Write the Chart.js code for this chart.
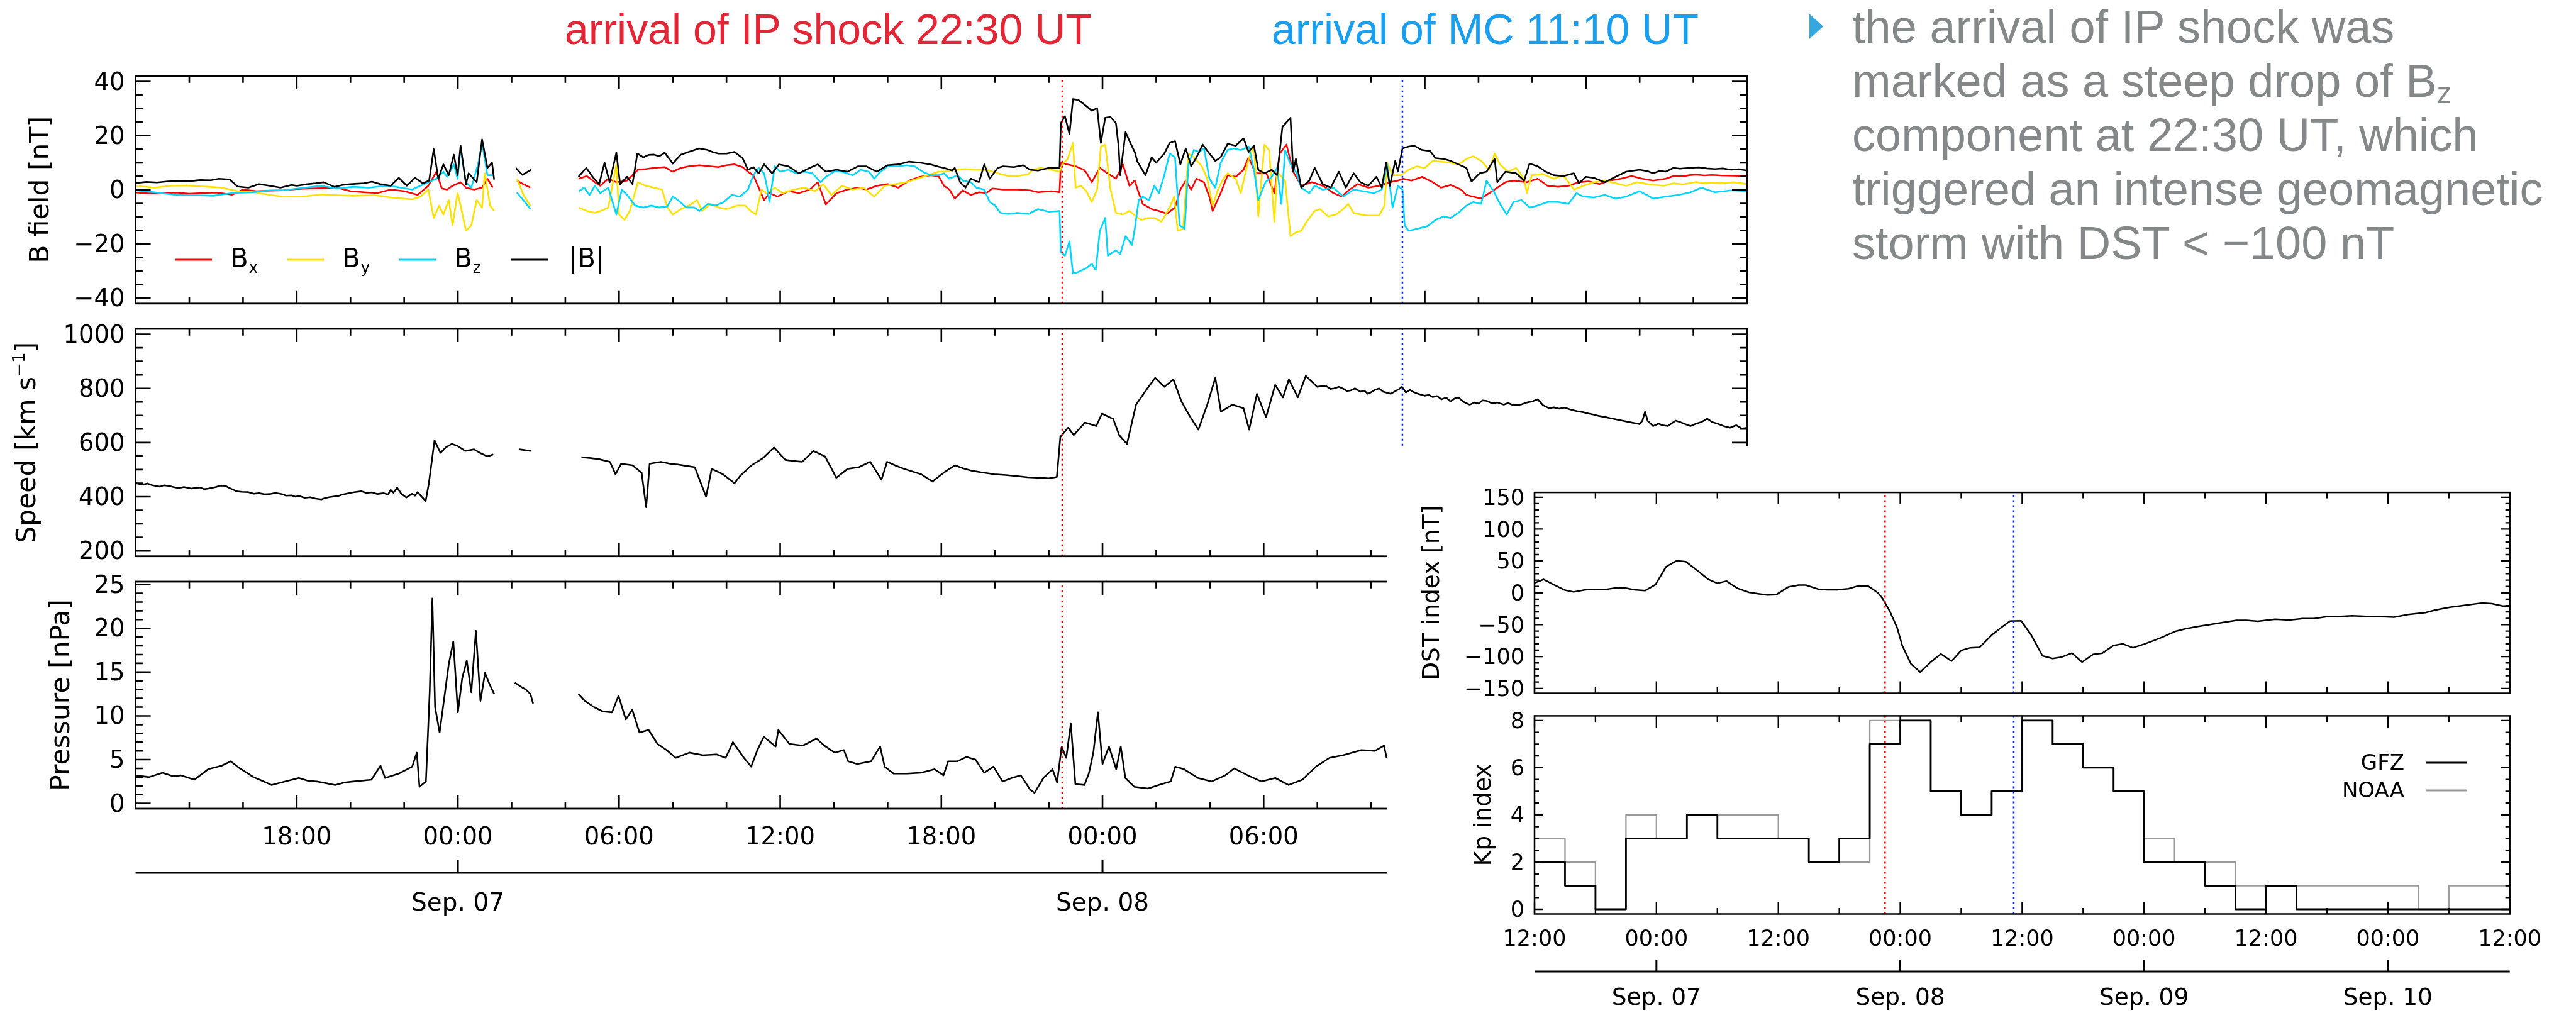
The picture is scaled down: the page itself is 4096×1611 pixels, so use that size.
<!DOCTYPE html>
<html>
<head>
<meta charset="utf-8">
<title>IP shock and magnetic cloud arrival, 7–8 September</title>
<script src="https://cdn.jsdelivr.net/npm/chart.js@4.4.1/dist/chart.umd.min.js"></script>
<style>
  html, body { margin: 0; padding: 0; background: #fff; }
  #stage { position: relative; width: 4096px; height: 1611px; overflow: hidden; background: #fff;
           font-family: "Liberation Sans", Arial, Helvetica, sans-serif; }
  #stage canvas { position: absolute; left: 0; top: 0; }
  .headline { position: absolute; white-space: nowrap; font-size: 68px; line-height: 68px; top: 12px; }
  #inset { position: absolute; left: 2206px; top: 709px; width: 1890px; height: 902px; background: #fff; }
  #note { position: absolute; left: 2945px; top: 0px; font-size: 74px; line-height: 86px;
          color: #858889; white-space: nowrap; }
  #note .sub { font-size: 0.62em; position: relative; top: 0.22em; line-height: 0; }
  #marker { position: absolute; left: 2877px; top: 22px; width: 0; height: 0;
            border-left: 22px solid #35a8e0; border-top: 20px solid transparent; border-bottom: 20px solid transparent; }
</style>
</head>
<body>
<div id="stage">
  <canvas id="cB" width="4096" height="1611"></canvas>
  <canvas id="cV" width="4096" height="1611"></canvas>
  <canvas id="cP" width="4096" height="1611"></canvas>
  <div id="inset"></div>
  <canvas id="cD" width="4096" height="1611"></canvas>
  <canvas id="cK" width="4096" height="1611"></canvas>

  <div class="headline" style="left:898px;color:#e32636;">arrival of IP shock 22:30 UT</div>
  <div class="headline" style="left:2022px;color:#1a9ff0;">arrival of MC 11:10 UT</div>

  <div id="marker"></div>
  <div id="note">the arrival of IP shock was<br>marked as a steep drop of B<span class="sub">z</span><br>component at 22:30 UT, which<br>triggered an intense geomagnetic<br>storm with DST &lt; &minus;100 nT</div>
</div>

<script>
// ---------------------------------------------------------------
// Time is given in hours since 2017-09-06 00:00 UT.
// ---------------------------------------------------------------

// event times
const shockTime = 22.5 + 24;         // Sep 07 22:30 UT
const cloudTime = 11 + 10 / 60 + 48; // Sep 08 11:10 UT

// interplanetary magnetic field [nT]  ([time, value], null = data gap)
const bxData = [[12.0,-1.0],[12.5,-1.3],[13.0,-1.3],[13.5,-1.0],[14.0,-1.4],[14.5,-1.2],[15.0,-1.0],[15.6,-1.8],[16.0,0.1],[16.5,-0.5],[17.0,-0.3],[17.5,-0.2],[18.0,0.3],[18.5,0.5],[19.0,0.6],[19.5,0.8],[20.0,-0.5],[20.5,-0.9],[21.0,-1.2],[21.5,0.1],[22.0,-0.5],[22.5,-1.9],[22.9,1.5],[23.2,6.7],[23.4,0.5],[23.6,0.1],[23.8,1.5],[24.1,2.8],[24.3,0.8],[24.6,0.1],[24.9,0.8],[25.1,4.1],[25.3,0.8],[25.4,null],[26.2,3.4],[26.45,2.0],[26.7,0.8],[26.8,null],[28.5,4.1],[28.8,5.1],[29.1,2.8],[29.3,1.5],[29.6,4.1],[29.9,2.8],[30.3,3.4],[30.7,7.4],[31.0,7.7],[31.3,8.1],[31.7,8.4],[32.0,6.7],[32.3,8.1],[32.6,8.7],[33.0,9.1],[33.4,8.7],[33.7,8.4],[34.0,9.1],[34.3,9.4],[34.6,8.4],[34.8,6.7],[35.0,5.4],[35.2,0.8],[35.4,-3.8],[35.6,-1.2],[35.9,-2.5],[36.3,-0.5],[36.7,-1.2],[37.1,0.1],[37.4,2.8],[37.7,-5.4],[38.1,-1.2],[38.5,0.1],[38.9,0.8],[39.2,0.1],[39.6,1.5],[40.0,2.1],[40.4,0.8],[40.8,3.4],[41.2,4.8],[41.6,5.4],[41.9,5.0],[42.1,1.5],[42.3,0.1],[42.5,-3.2],[42.8,-0.2],[43.1,-1.9],[43.4,-0.9],[43.68,-1.2],[43.9,0.5],[44.3,0.1],[44.85,0.1],[45.3,-0.2],[45.6,-0.9],[46.1,-0.5],[46.4,-0.9],[46.45,10.0],[46.7,9.4],[47.0,8.7],[47.3,7.4],[47.4,6.4],[47.6,2.8],[47.9,8.1],[48.1,6.7],[48.5,4.1],[48.76,9.4],[49.0,1.5],[49.2,3.4],[49.35,-1.2],[49.5,-5.2],[49.83,-7.1],[50.1,-7.8],[50.4,-8.8],[50.7,-6.5],[50.9,0.1],[51.1,3.4],[51.3,0.1],[51.5,4.1],[51.78,2.8],[52.0,-3.2],[52.1,-7.8],[52.4,-1.2],[52.66,5.4],[52.96,4.8],[53.25,7.4],[53.44,12.0],[53.7,6.1],[54.1,6.1],[54.4,-1.2],[54.6,13.4],[54.85,16.7],[55.1,6.7],[55.4,1.5],[55.8,2.8],[56.2,1.5],[56.6,-1.2],[56.9,-2.5],[57.2,0.1],[57.5,2.1],[57.9,0.8],[58.3,1.5],[58.7,2.8],[59.0,3.4],[59.2,4.1],[59.5,3.4],[59.9,4.8],[60.3,2.8],[60.6,0.8],[60.96,1.8],[61.35,0.1],[61.55,-1.9],[61.8,-2.5],[62.1,-3.2],[62.4,-1.2],[62.7,0.8],[63.0,2.8],[63.3,3.4],[63.8,2.8],[64.2,4.1],[64.57,1.5],[64.96,1.1],[65.35,1.5],[65.74,2.8],[66.1,3.1],[66.5,2.1],[66.9,3.4],[67.3,4.1],[67.7,5.1],[68.1,4.1],[68.5,3.4],[68.97,4.1],[69.26,5.1],[69.6,5.0],[69.85,5.4],[70.1,5.6],[70.4,5.3],[70.7,5.5],[71.0,5.3],[71.5,5.2],[72.0,5.1]];

const byData = [[12.0,1.5],[12.7,0.8],[13.3,1.5],[13.9,1.6],[14.7,1.1],[15.2,0.8],[15.8,-0.5],[16.4,-0.9],[17.0,-1.9],[17.5,-2.5],[18.3,-2.4],[18.9,-1.7],[19.5,-2.0],[20.1,-2.2],[20.9,-2.0],[21.5,-2.8],[22.3,-3.5],[22.6,-2.5],[22.9,0.1],[23.1,-10.4],[23.3,-5.8],[23.46,-9.1],[23.66,-3.8],[23.8,-13.1],[23.99,-1.2],[24.1,-5.8],[24.3,-15.1],[24.5,-13.1],[24.7,-3.8],[24.9,-6.5],[25.0,6.1],[25.2,-5.8],[25.35,-7.8],[25.4,null],[26.2,4.0],[26.45,-2.0],[26.7,-6.0],[26.8,null],[28.5,-6.5],[28.8,-7.8],[29.1,-8.5],[29.4,-7.5],[29.6,-6.5],[29.9,9.4],[30.0,-9.1],[30.2,-11.1],[30.4,-7.8],[30.7,2.8],[31.0,1.5],[31.3,0.8],[31.6,0.1],[31.8,-6.5],[32.0,-9.1],[32.3,-7.1],[32.6,-5.8],[32.9,-3.8],[33.1,-7.8],[33.4,-5.2],[33.7,-6.5],[34.0,-7.1],[34.4,-5.8],[34.7,-5.8],[34.9,-7.8],[35.1,-9.1],[35.3,0.1],[35.5,-1.2],[35.8,0.8],[36.1,-1.2],[36.5,0.1],[36.9,0.8],[37.3,-0.5],[37.6,2.1],[37.9,-1.9],[38.3,1.5],[38.7,0.1],[39.1,0.8],[39.5,-2.5],[39.9,1.5],[40.3,2.1],[40.7,2.8],[41.1,4.1],[41.5,5.4],[41.9,6.7],[42.1,6.7],[42.5,7.4],[42.9,7.7],[43.3,7.4],[43.68,7.4],[44.1,6.1],[44.5,5.1],[44.85,5.1],[45.24,5.8],[45.4,7.4],[45.7,8.1],[46.1,7.4],[46.4,6.7],[46.5,9.4],[46.7,11.4],[46.9,17.3],[47.0,0.8],[47.2,1.5],[47.4,-0.5],[47.6,-4.5],[47.8,0.1],[47.94,16.0],[48.1,16.7],[48.3,0.1],[48.5,-8.5],[48.76,-9.1],[49.0,-7.8],[49.25,-9.8],[49.44,-11.1],[49.7,-10.4],[49.93,-10.4],[50.2,-11.8],[50.5,-6.5],[50.67,-2.5],[50.8,-15.1],[51.0,-14.4],[51.2,13.4],[51.4,12.0],[51.7,8.7],[51.9,4.1],[52.1,-5.8],[52.3,0.1],[52.5,4.1],[52.66,6.1],[52.96,4.1],[53.15,-1.2],[53.44,11.4],[53.64,16.0],[53.8,-9.8],[54.03,16.7],[54.2,14.7],[54.4,-11.8],[54.5,6.7],[54.8,3.4],[55.0,-17.1],[55.2,-15.7],[55.4,-15.1],[55.6,-11.8],[55.9,-7.8],[56.1,-7.1],[56.4,-9.8],[56.7,-9.1],[56.96,-7.1],[57.15,-5.2],[57.35,-8.5],[57.6,-9.1],[57.9,-9.5],[58.3,-9.5],[58.5,-5.8],[58.6,10.0],[58.8,5.4],[59.1,5.4],[59.4,7.4],[59.7,8.7],[60.0,8.1],[60.3,10.7],[60.6,10.4],[60.96,10.0],[61.25,9.4],[61.55,11.4],[61.8,12.4],[62.1,10.7],[62.4,7.4],[62.6,13.4],[62.8,9.4],[63.1,6.7],[63.4,8.1],[63.7,4.1],[63.8,-1.2],[63.98,5.4],[64.4,5.8],[64.8,4.1],[65.16,5.4],[65.55,0.1],[65.9,1.5],[66.3,2.8],[66.7,3.4],[67.1,2.4],[67.5,1.5],[67.9,2.8],[68.3,2.1],[68.9,1.5],[69.26,2.4],[69.6,2.0],[69.85,2.4],[70.1,2.9],[70.4,2.4],[70.7,2.6],[71.0,2.4],[71.5,2.8],[72.0,2.1]];

const bzData = [[12.0,-0.2],[12.7,-0.9],[13.5,-1.9],[14.3,-2.0],[14.9,-2.2],[15.6,-1.2],[16.4,-0.9],[17.0,-0.2],[17.5,-0.2],[18.3,0.8],[18.9,1.5],[19.5,0.5],[20.1,1.1],[20.7,0.8],[21.3,1.5],[21.7,1.1],[22.3,0.1],[22.6,1.5],[22.9,2.8],[23.2,4.1],[23.46,6.7],[23.6,4.8],[23.85,9.4],[23.99,4.1],[24.1,15.3],[24.3,2.8],[24.5,0.8],[24.75,9.4],[24.9,17.3],[25.1,5.4],[25.3,5.4],[25.4,null],[26.2,-1.0],[26.45,-4.0],[26.7,-7.0],[26.8,null],[28.5,-0.5],[28.7,0.8],[28.9,-1.9],[29.1,1.5],[29.3,-1.2],[29.6,0.8],[29.9,-9.1],[30.1,0.1],[30.3,-1.9],[30.6,-5.8],[30.9,-6.5],[31.2,-5.8],[31.5,-6.5],[31.8,-6.1],[32.0,-2.5],[32.2,-3.8],[32.5,-6.5],[32.8,-6.5],[33.0,-7.8],[33.3,-5.2],[33.6,-5.8],[33.9,-4.5],[34.2,-1.9],[34.5,-2.5],[34.8,0.1],[35.0,5.4],[35.2,8.1],[35.4,6.1],[35.5,1.5],[35.6,-4.5],[35.8,8.7],[36.0,6.7],[36.3,7.4],[36.6,6.1],[36.9,6.7],[37.2,6.1],[37.5,2.8],[37.7,4.8],[38.0,6.7],[38.3,6.7],[38.7,5.4],[39.0,7.4],[39.3,6.7],[39.5,4.1],[39.7,6.4],[40.0,8.7],[40.4,8.7],[40.7,9.1],[41.0,8.7],[41.3,6.7],[41.6,5.4],[41.9,5.4],[42.1,6.1],[42.3,4.1],[42.6,5.4],[42.8,3.4],[43.1,2.8],[43.3,0.8],[43.6,0.1],[43.8,-4.5],[44.0,-5.8],[44.2,-8.5],[44.5,-8.9],[44.85,-8.5],[45.24,-8.9],[45.6,-7.1],[46.0,-8.1],[46.4,-7.8],[46.45,-23.0],[46.6,-24.3],[46.77,-19.0],[46.9,-30.9],[47.1,-30.3],[47.4,-28.9],[47.6,-27.3],[47.75,-29.6],[47.9,-15.1],[48.1,-10.4],[48.2,-24.3],[48.5,-22.3],[48.66,-23.7],[48.86,-17.1],[49.1,-20.4],[49.2,-14.4],[49.35,-3.8],[49.5,-2.5],[49.73,-3.8],[49.93,1.5],[50.1,-1.2],[50.3,5.4],[50.5,13.4],[50.7,12.0],[50.87,-13.1],[51.06,-14.4],[51.2,9.4],[51.4,14.7],[51.6,14.0],[51.78,15.3],[51.98,4.1],[52.2,0.8],[52.4,10.0],[52.66,14.7],[52.86,15.3],[53.15,14.7],[53.44,16.0],[53.64,7.4],[53.8,-3.8],[54.07,2.8],[54.3,4.8],[54.5,8.1],[54.66,-5.2],[54.8,14.7],[55.0,9.4],[55.2,6.7],[55.4,0.8],[55.7,-1.2],[55.9,1.5],[56.2,0.1],[56.6,0.8],[56.96,-2.5],[57.35,0.1],[57.7,-0.5],[58.1,-1.2],[58.4,0.1],[58.6,9.4],[58.8,-6.5],[59.0,1.5],[59.17,0.1],[59.25,-13.1],[59.4,-15.1],[59.7,-14.4],[60.1,-13.4],[60.4,-11.1],[60.7,-9.8],[60.96,-10.4],[61.25,-8.5],[61.55,-5.8],[61.8,-4.5],[62.1,-5.2],[62.3,3.4],[62.6,-1.2],[62.8,-5.2],[63.05,-9.1],[63.3,-4.5],[63.6,-3.8],[63.9,-6.5],[64.2,-5.8],[64.57,-4.5],[64.96,-4.5],[65.35,-5.2],[65.65,-1.2],[65.9,-2.5],[66.3,-2.8],[66.7,-1.9],[67.1,-3.2],[67.5,-2.5],[68.0,-0.5],[68.5,-3.2],[68.97,-2.5],[69.45,-1.9],[69.9,-0.9],[70.3,0.8],[70.8,-0.9],[71.4,-0.2],[72.0,-0.5]];

const bTotalData = [[12.0,2.5],[12.4,2.9],[12.8,2.7],[13.2,3.1],[13.6,3.3],[14.0,3.2],[14.4,3.6],[14.8,3.5],[15.1,4.1],[15.5,3.8],[15.8,1.2],[16.2,0.8],[16.6,2.1],[17.0,1.5],[17.4,0.8],[17.8,1.8],[18.0,1.5],[18.4,2.1],[18.7,2.4],[19.0,2.8],[19.4,1.1],[19.7,1.8],[20.0,2.1],[20.5,2.4],[20.8,3.0],[21.1,2.1],[21.5,1.5],[21.8,4.4],[22.1,1.5],[22.4,4.4],[22.7,2.4],[22.93,3.4],[23.1,15.0],[23.27,4.1],[23.46,9.4],[23.66,5.4],[23.85,13.0],[23.99,5.4],[24.1,16.3],[24.3,2.1],[24.4,6.1],[24.7,2.8],[24.9,18.6],[25.1,8.1],[25.27,10.0],[25.35,3.8],[25.4,null],[26.16,8.0],[26.4,5.5],[26.74,7.5],[26.8,null],[28.49,4.8],[28.78,8.1],[29.07,4.1],[29.26,2.1],[29.46,10.0],[29.65,2.8],[29.9,13.7],[30.04,2.1],[30.3,4.8],[30.5,2.1],[30.68,13.4],[30.9,12.0],[31.1,12.9],[31.3,13.0],[31.5,12.4],[31.7,13.7],[32.0,9.7],[32.3,13.0],[32.6,14.0],[32.98,15.3],[33.3,14.7],[33.5,13.9],[33.7,13.4],[34.0,13.4],[34.3,14.0],[34.6,11.7],[34.8,7.4],[35.0,8.4],[35.2,6.1],[35.4,9.4],[35.7,6.1],[35.95,9.4],[36.3,8.7],[36.7,6.1],[37.1,8.1],[37.4,9.4],[37.7,6.7],[38.1,7.4],[38.5,6.7],[38.9,8.7],[39.2,8.7],[39.6,6.7],[40.0,9.1],[40.4,9.4],[40.8,10.4],[41.2,10.0],[41.6,9.4],[41.9,8.5],[42.1,8.1],[42.4,7.1],[42.5,8.1],[42.7,2.8],[42.9,0.8],[43.1,4.1],[43.4,2.8],[43.6,9.4],[43.8,4.1],[44.1,8.1],[44.3,8.7],[44.7,8.4],[45.05,9.1],[45.3,7.4],[45.6,7.1],[46.0,8.1],[46.4,8.1],[46.45,24.6],[46.6,27.2],[46.77,20.6],[46.9,33.5],[47.1,33.2],[47.4,30.9],[47.6,29.2],[47.8,30.2],[47.94,17.3],[48.1,26.6],[48.3,26.9],[48.5,24.6],[48.6,16.0],[48.66,5.4],[48.86,21.3],[49.05,17.0],[49.2,14.0],[49.3,10.4],[49.44,8.1],[49.6,5.4],[49.83,12.0],[50.0,10.0],[50.3,13.4],[50.5,17.3],[50.7,18.0],[50.9,9.4],[51.1,15.3],[51.3,8.7],[51.5,12.0],[51.73,16.7],[51.98,13.4],[52.2,10.7],[52.4,12.0],[52.66,17.0],[52.96,16.3],[53.25,19.0],[53.44,14.0],[53.64,16.3],[53.8,7.4],[54.03,6.1],[54.3,7.4],[54.5,5.4],[54.7,23.3],[55.0,26.6],[55.1,6.7],[55.2,11.4],[55.4,0.8],[55.7,3.4],[55.9,8.1],[56.2,2.1],[56.5,0.8],[56.8,6.7],[57.06,0.8],[57.35,6.1],[57.6,2.8],[57.9,1.5],[58.2,4.8],[58.4,0.8],[58.56,10.0],[58.7,1.5],[58.9,10.7],[59.0,6.7],[59.17,15.3],[59.4,16.0],[59.6,16.3],[59.9,14.7],[60.2,14.3],[60.4,11.7],[60.7,11.4],[60.96,10.7],[61.25,9.4],[61.55,8.1],[61.74,3.1],[62.04,6.1],[62.3,6.7],[62.6,11.4],[62.7,2.8],[63.0,6.7],[63.4,6.1],[63.7,3.4],[63.9,9.7],[64.2,8.7],[64.5,6.7],[64.8,5.4],[65.16,5.1],[65.55,6.1],[65.74,2.4],[66.0,4.8],[66.3,4.4],[66.7,2.8],[67.1,4.8],[67.5,6.7],[68.0,7.4],[68.3,6.9],[68.5,6.1],[68.75,7.0],[68.97,6.7],[69.26,8.1],[69.5,7.8],[69.85,8.1],[70.2,8.3],[70.5,7.9],[70.8,7.7],[71.1,7.9],[71.4,7.4],[71.7,7.6],[72.0,7.1]];

// solar wind speed [km/s]
const speedData = [[11.97,450],[12.15,447],[12.3,446],[12.45,449],[12.6,443],[12.75,440],[12.9,437],[13.05,442],[13.24,440],[13.4,436],[13.6,432],[13.8,436],[14.08,430],[14.25,433],[14.4,434],[14.55,428],[14.71,430],[14.85,433],[15.0,436],[15.15,441],[15.34,440],[15.5,432],[15.76,420],[15.95,418],[16.2,417],[16.4,411],[16.6,413],[16.8,409],[17.0,410],[17.2,414],[17.45,410],[17.6,404],[17.8,405],[17.95,400],[18.08,403],[18.3,396],[18.5,398],[18.7,393],[18.92,390],[19.05,395],[19.2,398],[19.4,401],[19.55,403],[19.7,408],[19.9,412],[20.1,416],[20.4,420],[20.6,414],[20.8,416],[21.0,410],[21.24,413],[21.4,408],[21.5,425],[21.6,415],[21.74,433],[21.9,410],[22.08,397],[22.2,405],[22.3,411],[22.4,404],[22.5,417],[22.65,400],[22.8,384],[22.92,450],[23.13,608],[23.35,562],[23.55,582],[23.77,595],[23.98,588],[24.27,569],[24.6,575],[24.82,562],[25.1,549],[25.32,556],[25.4,null],[26.29,575],[26.5,572],[26.71,569],[26.8,null],[28.6,546],[28.9,543],[29.24,539],[29.66,529],[29.87,483],[30.08,522],[30.5,516],[30.84,489],[31.01,361],[31.14,522],[31.56,529],[31.9,522],[32.19,519],[32.5,514],[32.82,509],[33.24,400],[33.45,503],[33.87,483],[34.3,450],[34.5,476],[34.93,516],[35.35,542],[35.77,582],[36.19,536],[36.5,532],[36.82,529],[37.24,569],[37.67,549],[38.09,470],[38.51,503],[38.93,509],[39.35,529],[39.77,463],[39.98,529],[40.3,515],[40.61,503],[41.25,483],[41.67,456],[42.09,489],[42.51,516],[42.8,505],[43.14,496],[43.5,490],[43.98,483],[44.4,480],[44.83,476],[45.2,472],[45.67,470],[46.0,468],[46.3,473],[46.43,621],[46.72,655],[46.93,628],[47.35,674],[47.77,661],[47.98,707],[48.4,687],[48.62,628],[48.91,595],[49.25,740],[49.67,800],[49.96,839],[50.3,806],[50.64,833],[50.93,754],[51.23,701],[51.57,648],[51.9,740],[52.2,839],[52.41,714],[52.83,740],[53.25,727],[53.46,648],[53.75,780],[54.09,694],[54.43,813],[54.72,767],[54.94,833],[55.27,767],[55.57,846],[55.99,806],[56.3,810],[56.5,798],[56.62,800],[56.8,806],[57.0,797],[57.1,790],[57.25,793],[57.4,800],[57.6,788],[57.75,792],[57.88,780],[58.0,786],[58.15,795],[58.3,800],[58.45,788],[58.6,784],[58.73,780],[58.9,790],[59.05,798],[59.15,806],[59.3,785],[59.45,795],[59.57,787],[59.75,780],[59.99,773],[60.15,776],[60.3,768],[60.45,772],[60.62,760],[60.8,766],[60.95,752],[61.1,762],[61.25,767],[61.45,750],[61.67,740],[61.85,748],[62.0,744],[62.15,756],[62.3,754],[62.5,745],[62.7,748],[62.94,740],[63.1,746],[63.3,738],[63.57,740],[63.8,748],[64.0,752],[64.2,760],[64.4,738],[64.62,727],[64.8,730],[65.0,725],[65.2,729],[65.46,721],[65.7,715],[65.9,712],[66.1,707],[66.3,703],[66.5,698],[66.73,694],[66.9,690],[67.1,686],[67.36,681],[67.6,676],[67.8,672],[67.99,668],[68.1,680],[68.2,714],[68.3,680],[68.5,661],[68.7,670],[68.85,664],[69.05,661],[69.2,672],[69.34,681],[69.5,676],[69.7,668],[69.89,661],[70.1,670],[70.3,676],[70.52,688],[70.7,676],[70.94,668],[71.1,662],[71.36,655],[71.6,664],[71.8,652],[72.0,655]];

// solar wind dynamic pressure [nPa]
const pressureData = [[11.99,3.2],[12.5,3.0],[13.0,3.5],[13.4,3.1],[13.68,3.2],[14.19,2.7],[14.7,3.9],[15.2,4.3],[15.54,4.8],[15.88,4.0],[16.39,3.0],[16.7,2.6],[17.06,2.1],[17.57,2.5],[18.08,2.9],[18.4,2.6],[18.75,2.5],[19.1,2.3],[19.43,2.1],[19.8,2.4],[20.1,2.5],[20.78,2.7],[21.12,4.3],[21.29,2.9],[21.8,3.4],[22.3,4.2],[22.47,5.8],[22.57,1.9],[22.81,2.5],[22.95,12.7],[23.05,23.4],[23.15,11.0],[23.32,8.1],[23.49,12.0],[23.66,15.9],[23.83,18.5],[24.0,10.4],[24.16,14.3],[24.33,16.3],[24.5,12.7],[24.67,19.7],[24.84,11.7],[25.01,14.9],[25.18,13.6],[25.35,12.5],[25.4,null],[26.12,13.8],[26.36,13.3],[26.53,13.0],[26.7,12.5],[26.8,11.4],[26.9,null],[28.49,12.5],[28.73,11.7],[29.07,11.0],[29.4,10.5],[29.74,10.4],[29.98,12.3],[30.25,9.6],[30.49,10.7],[30.76,8.1],[31.1,8.4],[31.43,6.8],[31.77,6.1],[32.11,5.2],[32.62,5.8],[33.12,5.5],[33.63,5.6],[33.97,5.2],[34.24,7.0],[34.65,5.2],[34.92,4.2],[35.15,6.1],[35.39,7.6],[35.83,6.5],[35.93,8.4],[36.34,6.8],[36.84,6.6],[37.35,7.4],[37.69,6.5],[38.03,5.8],[38.37,6.1],[38.53,4.8],[38.87,4.5],[39.38,4.8],[39.72,6.5],[39.89,4.2],[40.22,3.4],[40.73,3.4],[41.24,3.5],[41.75,3.9],[42.08,3.2],[42.25,4.8],[42.59,4.8],[42.93,5.3],[43.27,5.0],[43.6,3.5],[43.94,4.2],[44.28,2.5],[44.62,2.9],[44.96,3.2],[45.3,1.6],[45.47,1.2],[45.8,2.9],[46.14,3.9],[46.31,2.4],[46.48,6.5],[46.65,5.2],[46.82,9.1],[46.99,2.2],[47.33,2.1],[47.49,3.4],[47.66,5.8],[47.83,10.4],[48.0,4.5],[48.24,6.5],[48.51,3.9],[48.68,6.5],[48.85,2.9],[49.18,1.9],[49.69,1.7],[50.2,2.2],[50.54,2.5],[50.71,4.2],[51.04,3.9],[51.55,2.9],[52.06,2.5],[52.57,3.2],[52.9,4.0],[53.41,3.2],[53.92,2.5],[54.43,2.9],[54.93,2.1],[55.44,2.7],[55.95,4.2],[56.45,5.2],[56.96,5.5],[57.64,6.1],[58.14,6.0],[58.48,6.6],[58.58,5.2]];

// Dst index [nT]
const dstData = [[12.0,15.5],[12.9,21],[13.9,12.7],[15.0,4.2],[15.85,1.4],[17.0,4.8],[18.06,5.6],[19.1,5.6],[20.1,7.9],[20.8,7.9],[21.85,4.8],[22.88,3.4],[23.9,12.7],[24.95,41],[25.98,50.3],[26.9,48.9],[28.0,35.3],[29.1,21.2],[30.0,15],[30.9,18.4],[31.98,7.1],[33.1,0.8],[34.0,-1.4],[34.9,-3.4],[35.8,-2.8],[37.0,9.3],[38.0,12.1],[38.7,12.1],[39.97,5.6],[40.8,4.8],[41.8,4.8],[42.9,6.5],[43.9,11],[44.8,11],[45.8,0],[46.3,-9.9],[47.0,-29.7],[47.7,-55],[48.2,-83],[49.06,-111.6],[49.96,-124.3],[51.0,-108.8],[52.0,-96],[53.05,-107.3],[54.0,-90.4],[54.9,-86.2],[55.8,-85.6],[57.0,-66.4],[58.0,-53.7],[58.8,-44.4],[59.9,-43.8],[60.9,-66.4],[62.0,-98.9],[63.0,-103.1],[63.9,-100.8],[64.9,-94.6],[65.9,-108.8],[66.98,-96.6],[67.9,-94.6],[69.0,-82.5],[69.9,-80],[70.9,-86.2],[72.0,-80.5],[72.97,-74.9],[73.86,-69.2],[75.04,-60.7],[76.07,-56.5],[77.3,-52.8],[78.69,-49.4],[79.72,-46.6],[81.1,-43.2],[82.1,-43.2],[83.2,-44.6],[84.9,-41.5],[86.3,-42.7],[87.6,-40.4],[88.7,-40.4],[90.06,-37.3],[91.1,-37.3],[92.5,-35.9],[93.85,-37],[95.2,-37.3],[96.6,-38.1],[98.0,-33.9],[99.7,-31.1],[100.7,-26.8],[102.1,-22.6],[103.5,-19.8],[105.2,-16.1],[106.25,-16.9],[107.3,-20.6],[108.0,-20.6]];

// Kp index, 3-hour intervals starting Sep 06 12:00 UT
const kpStart = [12,15,18,21,24,27,30,33,36,39,42,45,48,51,54,57,60,63,66,69,72,75,78,81,84,87,90,93,96,99,102,105];
const kpEnd = 108;
const kpGFZ  = [2,1,0,3,3,4,3,3,3,2,3,7,8,5,4,5,8,7,6,5,2,2,1,0,1,0,0,0,0,0,0,0];
const kpNOAA = [3,2,0,4,3,4,4,4,3,2,2,8,8,5,4,5,8,7,6,5,3,2,2,1,1,1,1,1,1,0,1,1];

// tick labels
const bTicks = [-40, -20, 0, 20, 40];
const speedTicks = [200, 400, 600, 800, 1000];
const pressureTicks = [0, 5, 10, 15, 20, 25];
const dstTicks = [-150, -100, -50, 0, 50, 100, 150];
const kpTicks = [0, 2, 4, 6, 8];
const solarWindHours = [18, 24, 30, 36, 42, 48, 54, 60, 66];
const indexHours = [12, 24, 36, 48, 60, 72, 84, 96, 108];
const solarWindDays = [[24, 'Sep. 07'], [48, 'Sep. 08'], [72, 'Sep. 09']];
const indexDays = [[24, 'Sep. 07'], [48, 'Sep. 08'], [72, 'Sep. 09'], [96, 'Sep. 10']];
const fieldLegend = [['B', 'x', '#ff0000'], ['B', 'y', '#ffe100'], ['B', 'z', '#00d5ff'], ['|B|', '', '#000000']];
const kpLegend = [['GFZ', '#000000'], ['NOAA', '#9a9a9a']];

// ---------------------------------------------------------------
const W = 4096, H = 1611;
const PLOT_FONT = '"DejaVu Sans", "Liberation Sans", sans-serif';
const MINUS = '\u2212';

const fmtNum = v => (v < 0 ? MINUS + Math.abs(v) : String(v));
const hhmm = t => String(((t % 24) + 24) % 24).padStart(2, '0') + ':00';
const toXY = arr => arr.map(p => ({ x: p[0], y: p[1] }));
const near = (v, step) => Math.abs(v / step - Math.round(v / step)) < 1e-6;

function eachStep(min, max, step, fn) {
  const first = Math.ceil(min / step - 1e-9);
  const last = Math.floor(max / step + 1e-9);
  for (let i = first; i <= last; i++) fn(+(i * step).toFixed(6));
}

// per-canvas axis decoration (inward ticks on all four sides)
const axisSpec = {};

function drawTitle(ctx, t, a) {
  ctx.save();
  ctx.translate(t.x, (a.top + a.bottom) / 2);
  ctx.rotate(-Math.PI / 2);
  ctx.textBaseline = 'middle';
  ctx.textAlign = 'left';
  const supSize = Math.round(t.size * 0.62);
  let total = 0;
  t.parts.forEach(p => {
    ctx.font = (p.sup ? supSize : t.size) + 'px ' + PLOT_FONT;
    total += ctx.measureText(p.text).width;
  });
  let x = -total / 2;
  t.parts.forEach(p => {
    ctx.font = (p.sup ? supSize : t.size) + 'px ' + PLOT_FONT;
    ctx.fillText(p.text, x, p.sup ? -t.size * 0.3 : 0);
    x += ctx.measureText(p.text).width;
  });
  ctx.restore();
}

const idlAxes = {
  id: 'idlAxes',
  afterDatasetsDraw(chart) {
    const o = axisSpec[chart.canvas.id];
    if (!o) return;
    const ctx = chart.ctx, a = chart.chartArea;
    const sx = chart.scales.x, sy = chart.scales.y;
    ctx.save();
    ctx.strokeStyle = '#000';
    ctx.fillStyle = '#000';
    ctx.lineCap = 'butt';

    // tick marks
    ctx.lineWidth = o.tickWidth;
    ctx.beginPath();
    eachStep(sy.min, sy.max, o.yMinor, v => {
      const len = near(v, o.yMajor) ? o.yMajorLen : o.yMinorLen;
      const p = sy.getPixelForValue(v);
      ctx.moveTo(a.left, p); ctx.lineTo(a.left + len, p);
      ctx.moveTo(a.right, p); ctx.lineTo(a.right - len, p);
    });
    eachStep(sx.min, sx.max, o.xMinor, v => {
      const len = near(v, o.xMajor) ? o.xMajorLen : o.xMinorLen;
      const p = sx.getPixelForValue(v);
      ctx.moveTo(p, a.top); ctx.lineTo(p, a.top + len);
      ctx.moveTo(p, a.bottom); ctx.lineTo(p, a.bottom - len);
    });
    ctx.stroke();

    // frame
    ctx.lineWidth = o.frameWidth;
    ctx.strokeRect(a.left, a.top, a.right - a.left, a.bottom - a.top);

    // y tick labels
    ctx.font = o.tickSize + 'px ' + PLOT_FONT;
    ctx.textAlign = 'right';
    ctx.textBaseline = 'middle';
    o.yLabels.forEach(v => ctx.fillText(fmtNum(v), a.left - o.yLabelGap, sy.getPixelForValue(v) + o.yLabelDy));

    // x tick labels
    if (o.xLabels) {
      ctx.textAlign = 'center';
      o.xLabels.forEach(t => ctx.fillText(hhmm(t), sx.getPixelForValue(t), o.xLabelY));
    }

    // day axis below the time labels
    if (o.days) {
      const d = o.days;
      ctx.lineWidth = d.width;
      ctx.beginPath();
      ctx.moveTo(a.left, d.y); ctx.lineTo(a.right, d.y);
      d.list.forEach(([t]) => {
        const p = sx.getPixelForValue(t);
        ctx.moveTo(p, d.y); ctx.lineTo(p, d.y - d.tick);
      });
      ctx.stroke();
      ctx.font = d.size + 'px ' + PLOT_FONT;
      ctx.textAlign = 'center';
      d.list.forEach(([t, label]) => ctx.fillText(label, sx.getPixelForValue(t), d.labelY));
    }

    // y-axis title
    if (o.title) drawTitle(ctx, o.title, a);

    // legend
    if (o.legend) o.legend(ctx);
    ctx.restore();
  }
};

function makePanel(id, box, xr, yr, datasets) {
  return new Chart(document.getElementById(id), {
    type: 'line',
    data: { datasets },
    options: {
      responsive: false,
      animation: false,
      devicePixelRatio: 1,
      events: [],
      layout: { padding: { left: box[0], top: box[1], right: W - box[2], bottom: H - box[3] } },
      scales: {
        x: { type: 'linear', min: xr[0], max: xr[1], display: false },
        y: { type: 'linear', min: yr[0], max: yr[1], display: false }
      },
      plugins: { legend: { display: false }, tooltip: { enabled: false } },
      elements: { point: { radius: 0 }, line: { tension: 0, borderJoinStyle: 'round', fill: false } }
    },
    plugins: [idlAxes]
  });
}

const series = (data, color, width, extra) =>
  Object.assign({ data: toXY(data), borderColor: color, borderWidth: width, pointRadius: 0, spanGaps: false, fill: false }, extra || {});
const eventLine = (t, yr, color) =>
  ({ data: [{ x: t, y: yr[0] }, { x: t, y: yr[1] }], borderColor: color, borderWidth: 2.5, borderDash: [3, 5], pointRadius: 0, fill: false });

// ---------------- solar wind panels ----------------
const leftX = 215.6, rightX = 2778;
const swRange = [12, 72];
const swAxes = {
  tickWidth: 2.6, frameWidth: 2.8, tickSize: 38.5, yLabelGap: 17, yLabelDy: 3,
  xMinor: 2, xMajor: 6, xMajorLen: 21, xMinorLen: 10.7, yMajorLen: 24, yMinorLen: 11.3
};
const SW_LINE = 2.6;

const bRange = [-42, 42];
axisSpec.cB = Object.assign({}, swAxes, {
  yMinor: 5, yMajor: 20, yLabels: bTicks,
  title: { x: 66, size: 42.5, parts: [{ text: 'B field [nT]' }] },
  legend(ctx) {
    const y = 413, x0 = 279, pitch = 178, len = 58, gap = 29;
    fieldLegend.forEach(([txt, sub, color], i) => {
      const x = x0 + i * pitch;
      ctx.strokeStyle = color; ctx.lineWidth = 2.8;
      ctx.beginPath(); ctx.moveTo(x, y); ctx.lineTo(x + len, y); ctx.stroke();
      ctx.fillStyle = '#000';
      ctx.textAlign = 'left'; ctx.textBaseline = 'alphabetic';
      ctx.font = '42px ' + PLOT_FONT;
      const tx = x + len + gap + (sub ? 0 : 4);
      ctx.fillText(txt, tx, y + 12);
      if (sub) {
        const w = ctx.measureText(txt).width;
        ctx.font = '24px ' + PLOT_FONT;
        ctx.fillText(sub, tx + w + 1, y + 21);
      }
    });
  }
});
makePanel('cB', [leftX, 121, rightX, 482.8], swRange, bRange, [
  eventLine(shockTime, bRange, '#ff0000'),
  eventLine(cloudTime, bRange, '#0022ff'),
  series(bTotalData, '#000000', SW_LINE),
  series(bzData, '#00d5ff', SW_LINE),
  series(byData, '#ffe100', SW_LINE),
  series(bxData, '#ff0000', SW_LINE)
]);

const vRange = [180, 1020];
axisSpec.cV = Object.assign({}, swAxes, {
  yMinor: 50, yMajor: 200, yLabels: speedTicks,
  title: { x: 45, size: 42.5, parts: [{ text: 'Speed [km s' }, { text: MINUS + '1', sup: true }, { text: ']' }] }
});
makePanel('cV', [leftX, 523, rightX, 884.7], swRange, vRange, [
  eventLine(shockTime, vRange, '#ff0000'),
  eventLine(cloudTime, vRange, '#0022ff'),
  series(speedData, '#000000', SW_LINE)
]);

const pRange = [-0.6, 25.33];
axisSpec.cP = Object.assign({}, swAxes, {
  yMinor: 1, yMajor: 5, yLabels: pressureTicks,
  xLabels: solarWindHours, xLabelY: 1333,
  days: { y: 1388, tick: 20.5, width: 3, labelY: 1438, size: 39, list: solarWindDays },
  title: { x: 99, size: 42.5, parts: [{ text: 'Pressure [nPa]' }] }
});
makePanel('cP', [leftX, 925, rightX, 1286], swRange, pRange, [
  eventLine(shockTime, pRange, '#ff0000'),
  eventLine(cloudTime, pRange, '#0022ff'),
  series(pressureData, '#000000', SW_LINE)
]);

// ---------------- geomagnetic index panels ----------------
const idxLeft = 2440, idxRight = 3990.7;
const idxRange = [12, 108];
const idxAxes = {
  tickWidth: 2.3, frameWidth: 2.5, tickSize: 35, yLabelGap: 16, yLabelDy: 3,
  xMinor: 6, xMajor: 12, xMajorLen: 19, xMinorLen: 9.5, yMajorLen: 14, yMinorLen: 7
};

const dRange = [-157.6, 157.6];
axisSpec.cD = Object.assign({}, idxAxes, {
  yMinor: 10, yMajor: 50, yLabels: dstTicks,
  title: { x: 2278, size: 37.5, parts: [{ text: 'DST index [nT]' }] }
});
makePanel('cD', [idxLeft, 783.1, idxRight, 1102.5], idxRange, dRange, [
  eventLine(shockTime, dRange, '#ff0000'),
  eventLine(cloudTime, dRange, '#0022ff'),
  series(dstData, '#000000', 2.5)
]);

const kRange = [-0.2, 8.2];
const kpSteps = vals => kpStart.map((t, i) => [t, vals[i]]).concat([[kpEnd, vals[vals.length - 1]]]);
axisSpec.cK = Object.assign({}, idxAxes, {
  yMinor: 0.5, yMajor: 2, yLabels: kpTicks,
  xLabels: indexHours, xLabelY: 1495,
  days: { y: 1545, tick: 19, width: 3, labelY: 1588, size: 37.5, list: indexDays },
  title: { x: 2360, size: 37.5, parts: [{ text: 'Kp index' }] },
  legend(ctx) {
    kpLegend.forEach(([label, color], i) => {
      const y = 1213 + i * 44;
      ctx.fillStyle = '#000';
      ctx.font = '34px ' + PLOT_FONT;
      ctx.textAlign = 'right'; ctx.textBaseline = 'middle';
      ctx.fillText(label, 3823, y + 2);
      ctx.strokeStyle = color; ctx.lineWidth = 2.8;
      ctx.beginPath(); ctx.moveTo(3857, y); ctx.lineTo(3922, y); ctx.stroke();
    });
  }
});
makePanel('cK', [idxLeft, 1138.4, idxRight, 1453.5], idxRange, kRange, [
  eventLine(shockTime, kRange, '#ff0000'),
  eventLine(cloudTime, kRange, '#0022ff'),
  series(kpSteps(kpGFZ), '#000000', 2.8, { stepped: true }),
  series(kpSteps(kpNOAA), '#9a9a9a', 2.3, { stepped: true })
]);
</script>
</body>
</html>
